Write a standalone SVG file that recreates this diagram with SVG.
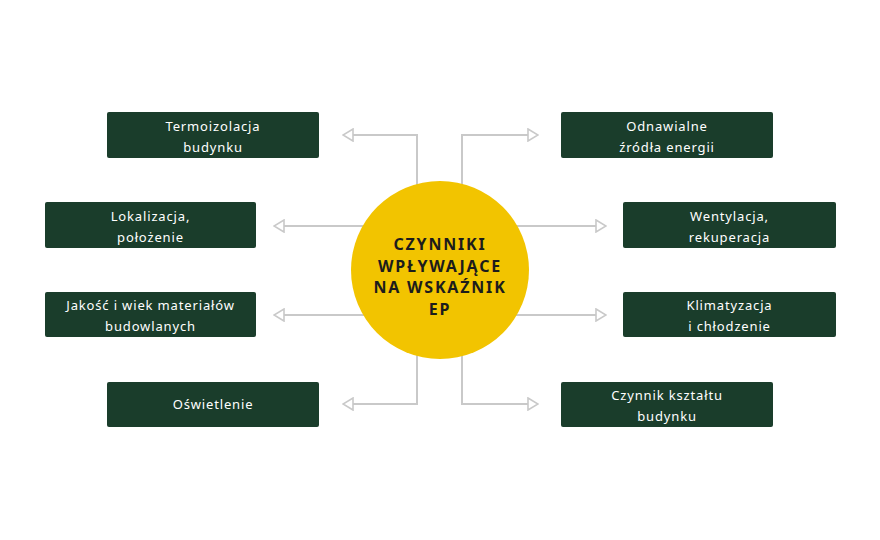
<svg xmlns="http://www.w3.org/2000/svg" width="880" height="540" viewBox="0 0 880 540">
<style>
.box{fill:#1a3d2b;}
.lbl{font-family:"Noto Sans","Liberation Sans",sans-serif;font-size:13px;fill:#ffffff;text-anchor:middle;letter-spacing:0.85px;}
.ctr{font-family:"Noto Sans","Liberation Sans",sans-serif;font-size:16px;font-weight:bold;fill:#1c1c1c;text-anchor:middle;letter-spacing:1.8px;}
.con{fill:none;stroke:#c9c9c9;stroke-width:2;}
</style>
<defs>
<marker id="arr" viewBox="0 0 12 14" refX="11" refY="7" markerWidth="12" markerHeight="14" markerUnits="userSpaceOnUse" orient="auto">
<path d="M1,1 L11,7 L1,13 Z" fill="#ffffff" stroke="#c9c9c9" stroke-width="1.6"/>
</marker>
</defs>
<rect width="880" height="540" fill="#ffffff"/>
<g id="connectors">
<path class="con" d="M417,188 V135 H343" marker-end="url(#arr)"/>
<path class="con" d="M462,188 V135 H538" marker-end="url(#arr)"/>
<path class="con" d="M364,226 H274" marker-end="url(#arr)"/>
<path class="con" d="M516,226 H606" marker-end="url(#arr)"/>
<path class="con" d="M364,315 H274" marker-end="url(#arr)"/>
<path class="con" d="M516,315 H606" marker-end="url(#arr)"/>
<path class="con" d="M417,352 V404 H343" marker-end="url(#arr)"/>
<path class="con" d="M462,352 V404 H538" marker-end="url(#arr)"/>
</g>
<g id="center">
<circle cx="440" cy="270" r="89" fill="#f2c400"/>
<text class="ctr" x="440" y="250">CZYNNIKI</text>
<text class="ctr" x="440" y="272">WPŁYWAJĄCE</text>
<text class="ctr" x="440" y="293">NA WSKAŹNIK</text>
<text class="ctr" x="440" y="315">EP</text>
</g>
<g id="termoizolacja">
<rect class="box" x="107" y="112" width="212" height="46" rx="2"/>
<text class="lbl" x="213" y="130.5">Termoizolacja</text>
<text class="lbl" x="213" y="151.5">budynku</text>
</g>
<g id="lokalizacja">
<rect class="box" x="45" y="202" width="211" height="46" rx="2"/>
<text class="lbl" x="150.5" y="220.5">Lokalizacja,</text>
<text class="lbl" x="150.5" y="241.5">położenie</text>
</g>
<g id="jakosc">
<rect class="box" x="45" y="292" width="211" height="45" rx="2"/>
<text class="lbl" x="150.5" y="310">Jakość i wiek materiałów</text>
<text class="lbl" x="150.5" y="331">budowlanych</text>
</g>
<g id="oswietlenie">
<rect class="box" x="107" y="382" width="212" height="45" rx="2"/>
<text class="lbl" x="213" y="409">Oświetlenie</text>
</g>
<g id="odnawialne">
<rect class="box" x="561" y="112" width="212" height="46" rx="2"/>
<text class="lbl" x="667" y="130.5">Odnawialne</text>
<text class="lbl" x="667" y="151.5">źródła energii</text>
</g>
<g id="wentylacja">
<rect class="box" x="623" y="202" width="213" height="46" rx="2"/>
<text class="lbl" x="729.5" y="220.5">Wentylacja,</text>
<text class="lbl" x="729.5" y="241.5">rekuperacja</text>
</g>
<g id="klimatyzacja">
<rect class="box" x="623" y="292" width="213" height="45" rx="2"/>
<text class="lbl" x="729.5" y="310">Klimatyzacja</text>
<text class="lbl" x="729.5" y="331">i chłodzenie</text>
</g>
<g id="czynnik">
<rect class="box" x="561" y="382" width="212" height="45" rx="2"/>
<text class="lbl" x="667" y="400">Czynnik kształtu</text>
<text class="lbl" x="667" y="421">budynku</text>
</g>
</svg>
